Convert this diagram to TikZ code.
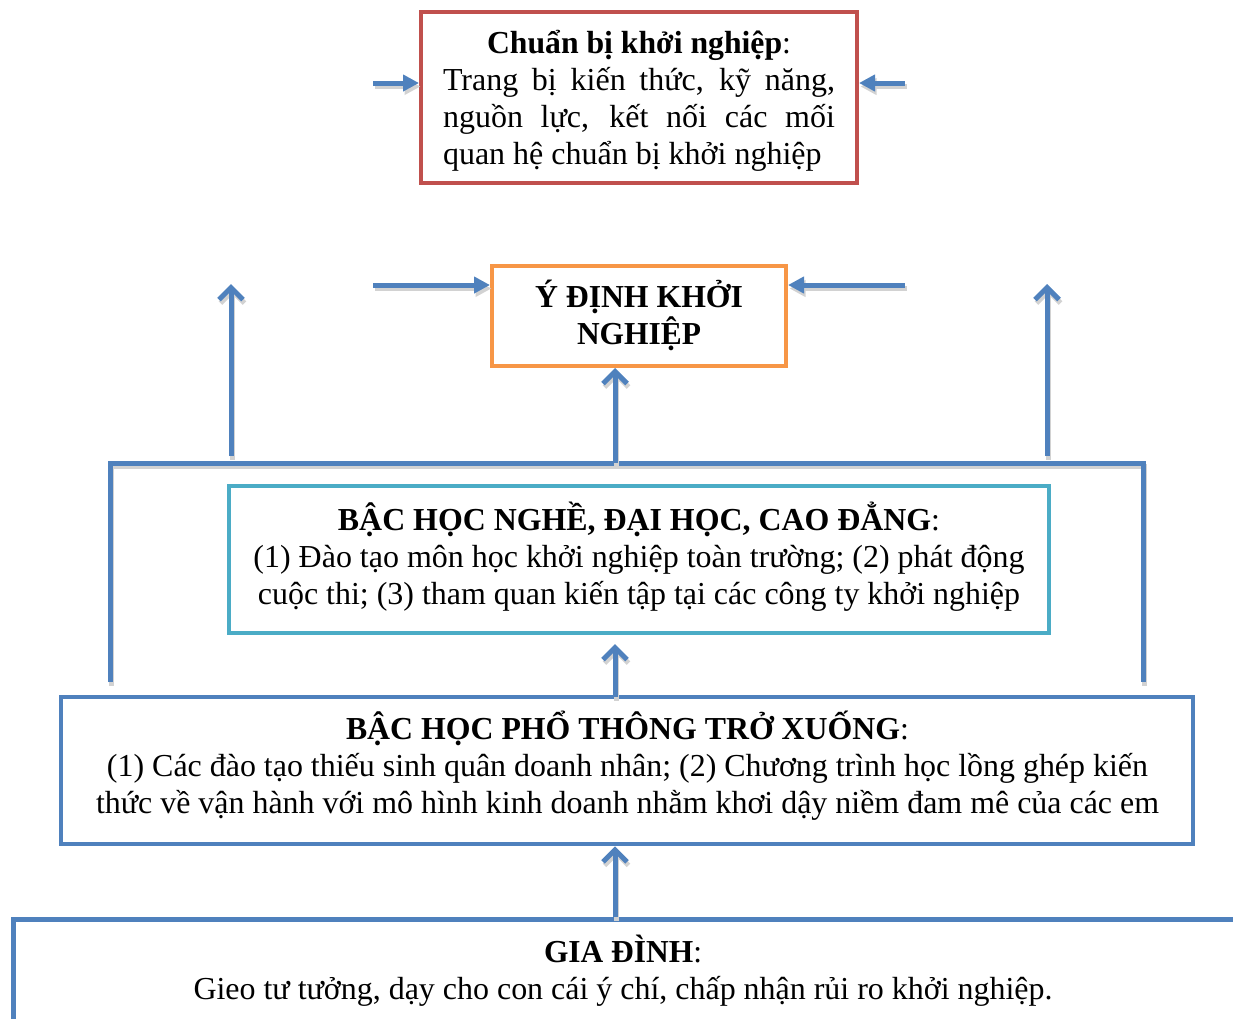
\documentclass[tikz,border=0pt]{standalone}
\usepackage{fontspec}
\setmainfont{Liberation Serif}
\usetikzlibrary{arrows.meta}
\definecolor{boxred}{HTML}{C0504D}
\definecolor{boxorange}{HTML}{F79646}
\definecolor{boxcyan}{HTML}{4BACC6}
\definecolor{boxblue}{HTML}{4F81BD}
\definecolor{shadowgrey}{HTML}{D2D2D2}
% one line of text brought to a given width, height unchanged
\newcommand\fitto[2]{\resizebox{#1pt}{\height}{#2}}
% one justified line of a given width
\newcommand\justline[2]{\makebox[#1pt][s]{#2}}
\newcommand\flushline[2]{\makebox[#1pt][l]{#2}}
\begin{document}
\begin{tikzpicture}[x=1pt,y=-1pt,
  font=\fontsize{32}{37}\selectfont,
  card/.style={draw, rectangle, inner sep=0pt, align=center},
  dropshadow/.style={transform canvas={xshift=1.5pt,yshift=-3.5pt}},
  harrow/.style={draw=boxblue, line width=5pt, -{Triangle[length=16pt,width=16pt]}},
  varrow/.style={draw=boxblue, line width=5pt, -{Straight Barb[length=12pt,width=24pt]}},
  harrowshadow/.style={draw=shadowgrey, line width=5pt, -{Triangle[length=16pt,width=16pt]}},
  varrowshadow/.style={draw=shadowgrey, line width=5pt, -{Straight Barb[length=12pt,width=24pt]}},
]
\useasboundingbox (0,0) rectangle (1233,1018);

% ---- boxes ----
\node[card, draw=boxred, line width=4pt, minimum width=436pt, minimum height=171pt]
  (prep) at (639,97.5) {};
\node[align=center, inner sep=0pt] (preptext) at (639,100.5)
  {\fitto{304}{\textbf{Chuẩn bị khởi nghiệp}:}\\
   \justline{392}{Trang bị kiến thức, kỹ năng,}\\
   \justline{392}{nguồn lực, kết nối các mối}\\
   \flushline{392}{quan hệ chuẩn bị khởi nghiệp}};

\node[card, draw=boxorange, line width=4pt, minimum width=294pt, minimum height=100pt]
  (intent) at (639,316) {};
\node[align=center, inner sep=0pt] (intenttext) at (639,315)
  {\fitto{208}{\textbf{Ý ĐỊNH KHỞI}}\\ \fitto{124}{\textbf{NGHIỆP}}};

\node[card, draw=boxcyan, line width=4pt, minimum width=820pt, minimum height=147pt]
  (college) at (639,559.5) {};
\node[align=center, inner sep=0pt] (collegetext) at (639,557)
  {\fitto{602}{\textbf{BẬC HỌC NGHỀ, ĐẠI HỌC, CAO ĐẲNG}:}\\
   \fitto{771}{(1) Đào tạo môn học khởi nghiệp toàn trường; (2) phát động}\\
   \fitto{762}{cuộc thi; (3) tham quan kiến tập tại các công ty khởi nghiệp}};

\node[card, draw=boxblue, line width=4.5pt, minimum width=1132pt, minimum height=147pt]
  (school) at (627,770.5) {};
\node[align=center, inner sep=0pt] (schooltext) at (627.5,766)
  {\fitto{563}{\textbf{BẬC HỌC PHỔ THÔNG TRỞ XUỐNG}:}\\
   \fitto{1041}{(1) Các đào tạo thiếu sinh quân doanh nhân; (2) Chương trình học lồng ghép kiến}\\
   \fitto{1063}{thức về vận hành với mô hình kinh doanh nhằm khơi dậy niềm đam mê của các em}};

% family box, running off the right and bottom edges
\coordinate (famcorner) at (13,919);
\draw[boxblue, line width=5pt] (famcorner |- 0,1030) -- (famcorner) -- (1240,919);
\node[align=center, inner sep=0pt] (family) at (623,971)
  {\fitto{158}{\textbf{GIA ĐÌNH}:}\\
   \fitto{859}{Gieo tư tưởng, dạy cho con cái ý chí, chấp nhận rủi ro khởi nghiệp.}};

% ---- bracket joining the upper levels ----
\coordinate (brL) at (110,682);
\coordinate (brTL) at (110,463);
\coordinate (brTR) at (1143,463);
\coordinate (brR) at (1143,682);
\draw[shadowgrey, line width=5pt, dropshadow] (brL) -- (brTL) -- (brTR) -- (brR);
\draw[boxblue, line width=5pt] (brL) -- (brTL) -- (brTR) -- (brR);

% ---- side arrows into the two top boxes ----
\coordinate (pl) at (373,83);
\coordinate (pr) at (905,83);
\coordinate (il) at (373,285);
\coordinate (ir) at (905,285);
\draw[harrowshadow, dropshadow] (pl) -- (pl -| prep.west);
\draw[harrowshadow, dropshadow] (pr) -- (pr -| prep.east);
\draw[harrowshadow, dropshadow] (il) -- (il -| intent.west);
\draw[harrowshadow, dropshadow] (ir) -- (ir -| intent.east);
\draw[harrow] (pl) -- (pl -| prep.west);
\draw[harrow] (pr) -- (pr -| prep.east);
\draw[harrow] (il) -- (il -| intent.west);
\draw[harrow] (ir) -- (ir -| intent.east);

% ---- upward arrows ----
\coordinate (ul0) at (231,456);
\coordinate (ul1) at (231,284);
\coordinate (ur0) at (1047,456);
\coordinate (ur1) at (1047,284);
\coordinate (um0) at (615,463);
\coordinate (sc0) at (615,697);
\coordinate (sc1) at (615,644);
\coordinate (fm0) at (615,917);
\draw[varrowshadow, dropshadow] (ul0) -- (ul1);
\draw[varrowshadow, dropshadow] (ur0) -- (ur1);
\draw[varrowshadow, dropshadow] (um0) -- (um0 |- intent.south);
\draw[varrowshadow, dropshadow] (sc0) -- (sc1);
\draw[varrowshadow, dropshadow] (fm0) -- (fm0 |- school.south);
\draw[varrow] (ul0) -- (ul1);
\draw[varrow] (ur0) -- (ur1);
\draw[varrow] (um0) -- (um0 |- intent.south);
\draw[varrow] (sc0) -- (sc1);
\draw[varrow] (fm0) -- (fm0 |- school.south);
\end{tikzpicture}
\end{document}
